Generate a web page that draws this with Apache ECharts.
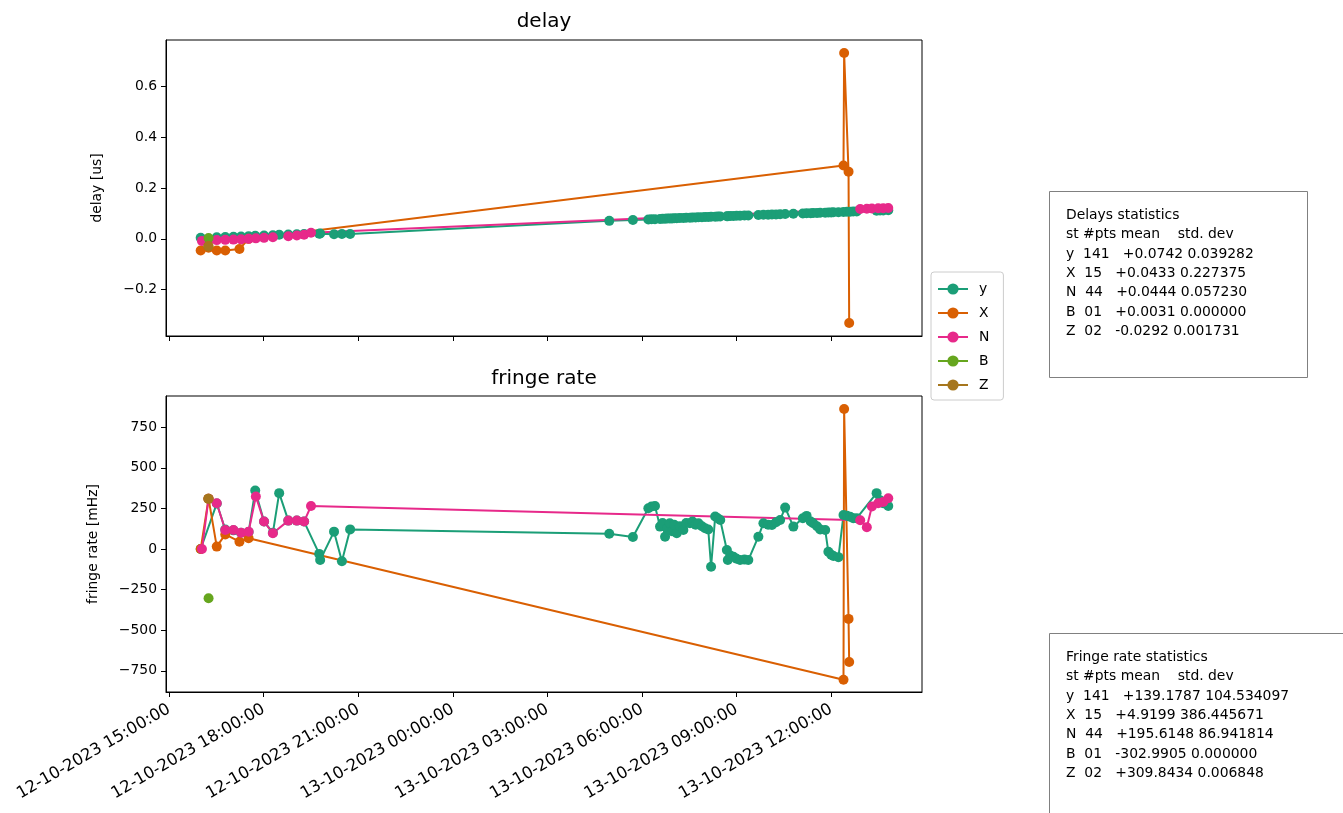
<!DOCTYPE html>
<html>
<head>
<meta charset="utf-8">
<script src="https://cdn.jsdelivr.net/npm/echarts@6/dist/echarts.min.js"></script>
<style>html,body{margin:0;padding:0;background:#fff;}#c{width:1343px;height:813px;}</style>
</head>
<body>
<div id="c"></div>
<script>
// time in hours since 12-10-2023 00:00
const xTickHours = [15, 18, 21, 24, 27, 30, 33, 36];
const delayTicks = [-0.2, 0, 0.2, 0.4, 0.6];
const fringeTicks = [-750, -500, -250, 0, 250, 500, 750];
const stations = ['y', 'X', 'N', 'B', 'Z'];

// station y
const yTime = [16.00,16.51,16.78,17.04,17.28,17.52,17.73,18.01,18.29,18.49,18.78,19.05,19.28,19.76,19.79,20.23,20.48,20.74,
  28.96,29.71,30.20,30.30,30.41,30.57,30.65,30.73,30.80,30.88,30.95,31.02,31.10,31.20,31.31,31.40,31.52,31.60,31.70,31.79,31.90,
  32.00,32.10,32.19,32.32,32.40,32.48,32.69,32.72,32.80,32.90,33.00,33.11,33.25,33.37,33.69,33.85,34.00,34.12,34.25,34.38,34.54,
  34.80,35.10,35.22,35.35,35.43,35.55,35.65,35.81,35.91,36.00,36.07,36.23,36.39,36.50,36.60,36.70,36.81,37.44,37.55,37.65,37.81];
const yDelay = [0.004,0.006,0.007,0.008,0.009,0.010,0.012,0.013,0.014,0.016,0.017,0.018,0.019,0.020,0.021,0.018,0.019,0.019,
  0.071,0.074,0.076,0.077,0.077,0.078,0.079,0.079,0.080,0.080,0.080,0.081,0.081,0.082,0.082,0.083,0.083,0.084,0.084,0.085,0.085,
  0.086,0.086,0.087,0.087,0.088,0.088,0.089,0.089,0.090,0.090,0.091,0.091,0.092,0.092,0.094,0.095,0.095,0.096,0.096,0.097,0.098,
  0.099,0.100,0.101,0.101,0.102,0.102,0.103,0.103,0.104,0.104,0.105,0.105,0.106,0.107,0.107,0.108,0.108,0.111,0.112,0.112,0.113];
const yFringe = [0,280,120,115,100,105,360,170,100,344,175,175,169,-30,-68,107,-75,121,
  94,74,251,262,265,138,160,76,130,159,110,150,97,140,117,160,159,170,150,159,140,
  128,120,-109,200,190,179,-6,-68,-40,-47,-60,-68,-65,-68,76,159,150,148,165,179,255,
  138,190,204,170,159,140,121,117,-17,-35,-43,-50,210,205,199,190,190,344,300,282,265];

// station X
const xTime = [16.00,16.25,16.51,16.78,17.23,17.52,36.39,36.41,36.55,36.57];
const xDelay = [-0.046,-0.035,-0.046,-0.046,-0.040,0.000,0.289,0.733,0.265,-0.332];
const xFringe = [0,310,15,90,45,66,-805,862,-430,-695];

// station N
const nTime = [16.04,16.25,16.51,16.78,17.04,17.28,17.52,17.75,18.01,18.29,18.78,19.05,19.28,19.50,
  36.92,37.13,37.29,37.49,37.65,37.81];
const nDelay = [-0.008,-0.006,-0.005,-0.004,-0.003,-0.002,0.000,0.002,0.004,0.006,0.010,0.013,0.016,0.024,
  0.118,0.119,0.120,0.121,0.121,0.122];
const nFringe = [0,310,282,117,117,100,107,323,169,97,175,175,169,265,
  177,134,262,282,290,313];

// station B
const bTime = [16.25];
const bDelay = [0.0031];
const bFringe = [-302.99];

// station Z
const zTime = [16.24,16.25];
const zDelay = [-0.030,-0.028];
const zFringe = [309.84,309.85];

const colors = ['#1b9e77', '#d95f02', '#e7298a', '#66a61e', '#a6761d'];

const delayStats = [
  'Delays statistics',
  'st #pts mean    std. dev',
  'y  141   +0.0742 0.039282',
  'X  15   +0.0433 0.227375',
  'N  44   +0.0444 0.057230',
  'B  01   +0.0031 0.000000',
  'Z  02   -0.0292 0.001731'
];
const fringeStats = [
  'Fringe rate statistics',
  'st #pts mean    std. dev',
  'y  141   +139.1787 104.534097',
  'X  15   +4.9199 386.445671',
  'N  44   +195.6148 86.941814',
  'B  01   -302.9905 0.000000',
  'Z  02   +309.8434 0.006848'
];

const FONT = 'DejaVu Sans';
const pad = n => (n < 10 ? '0' : '') + n;
function fmtTime(h) {
  const day = 12 + Math.floor(h / 24);
  const hh = Math.round(h - Math.floor(h / 24) * 24);
  return day + '-10-2023 ' + pad(hh) + ':00:00';
}
const minus = s => s.replace('-', '\u2212');

function zip(t, v) { return t.map((x, i) => [x, v[i]]); }
const sets = [[yTime, yDelay, yFringe], [xTime, xDelay, xFringe], [nTime, nDelay, nFringe], [bTime, bDelay, bFringe], [zTime, zDelay, zFringe]];

const series = [];
sets.forEach((s, i) => {
  [1, 2].forEach((k, g) => {
    series.push({
      name: stations[i], type: 'line', xAxisIndex: g, yAxisIndex: g,
      data: zip(s[0], s[k]), symbol: 'circle', symbolSize: 10, showSymbol: true,
      color: colors[i], lineStyle: { width: 2, color: colors[i] },
      itemStyle: { color: colors[i] }, emphasis: { disabled: true }, animation: false
    });
  });
});

const axisCommon = {
  type: 'value', min: 14.9, max: 38.88,
  axisLine: { onZero: false, lineStyle: { color: '#000', width: 1 } },
  axisTick: { customValues: xTickHours, length: 5, lineStyle: { color: '#000' } },
  splitLine: { show: false }
};

const chart = echarts.init(document.getElementById('c'), null, { renderer: 'canvas' });
chart.setOption({
  animation: false,
  backgroundColor: '#fff',
  grid: [
    { left: 166, top: 40, width: 756, height: 296, show: true, borderColor: '#000', borderWidth: 1, containLabel: false },
    { left: 166, top: 396, width: 756, height: 296, show: true, borderColor: '#000', borderWidth: 1, containLabel: false }
  ],
  xAxis: [
    Object.assign({}, axisCommon, { gridIndex: 0, axisLabel: { show: false } }),
    Object.assign({}, axisCommon, { gridIndex: 1,
      axisLabel: { customValues: xTickHours, rotate: 30, margin: 16, formatter: fmtTime, color: '#000', fontSize: 16.4, fontFamily: FONT } })
  ],
  yAxis: [
    { gridIndex: 0, type: 'value', min: -0.383, max: 0.784,
      name: 'delay [us]', nameLocation: 'middle', nameGap: 62, nameRotate: 90,
      nameTextStyle: { color: '#000', fontSize: 13.9, fontFamily: FONT },
      axisLine: { show: true, onZero: false, lineStyle: { color: '#000' } },
      axisTick: { show: true, customValues: delayTicks, length: 5, lineStyle: { color: '#000' } },
      axisLabel: { customValues: delayTicks, margin: 9, color: '#000', fontSize: 13.9, fontFamily: FONT,
        formatter: v => minus(v.toFixed(1)) },
      splitLine: { show: false } },
    { gridIndex: 1, type: 'value', min: -880, max: 942,
      name: 'fringe rate [mHz]', nameLocation: 'middle', nameGap: 66, nameRotate: 90,
      nameTextStyle: { color: '#000', fontSize: 13.9, fontFamily: FONT },
      axisLine: { show: true, onZero: false, lineStyle: { color: '#000' } },
      axisTick: { show: true, customValues: fringeTicks, length: 5, lineStyle: { color: '#000' } },
      axisLabel: { customValues: fringeTicks, margin: 9, color: '#000', fontSize: 13.9, fontFamily: FONT,
        formatter: v => minus(String(Math.round(v))) },
      splitLine: { show: false } }
  ],
  legend: {
    data: stations, orient: 'vertical', left: 931, top: 272,
    itemWidth: 30, itemHeight: 14, itemGap: 10,
    padding: [10, 14, 8, 6],
    borderColor: '#cccccc', borderWidth: 1, borderRadius: 3, backgroundColor: 'rgba(255,255,255,0.8)',
    textStyle: { color: '#000', fontSize: 13.9, fontFamily: FONT, padding: [0, 0, 0, 6] },
    selectedMode: false
  },
  graphic: [
    { type: 'text', style: { text: 'delay', x: 544, y: 22, textAlign: 'center', textVerticalAlign: 'middle', fontSize: 20, fontFamily: FONT, fill: '#000' } },
    { type: 'text', style: { text: 'fringe rate', x: 544, y: 379, textAlign: 'center', textVerticalAlign: 'middle', fontSize: 20, fontFamily: FONT, fill: '#000' } },
    { type: 'rect', shape: { x: 1049.5, y: 191.5, width: 258, height: 186 }, style: { fill: '#fff', stroke: '#808080', lineWidth: 1 } },
    { type: 'text', style: { text: delayStats.join('\n'), x: 1066, y: 205.5, textAlign: 'left', textVerticalAlign: 'top', lineHeight: 19.4, fontSize: 13.9, fontFamily: FONT, fill: '#000' } },
    { type: 'rect', shape: { x: 1049.5, y: 633.5, width: 320, height: 200 }, style: { fill: '#fff', stroke: '#808080', lineWidth: 1 } },
    { type: 'text', style: { text: fringeStats.join('\n'), x: 1066, y: 647.5, textAlign: 'left', textVerticalAlign: 'top', lineHeight: 19.4, fontSize: 13.9, fontFamily: FONT, fill: '#000' } }
  ],
  series: series
});
</script>
</body>
</html>
